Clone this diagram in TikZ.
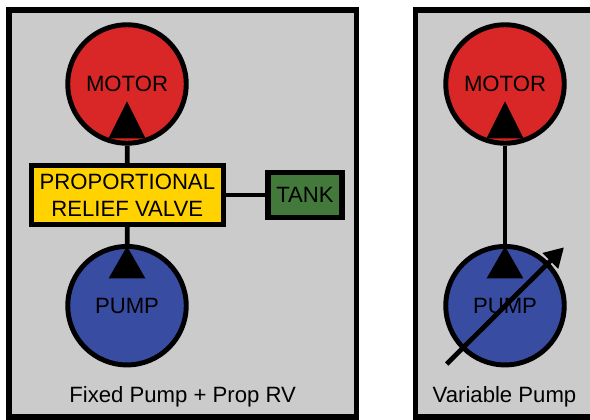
\documentclass[tikz,border=0pt]{standalone}
\usepackage{fontspec}
\setmainfont{Liberation Sans}
\usetikzlibrary{arrows.meta, positioning}
\definecolor{panelgrey}{HTML}{CBCBCB}
\definecolor{motorred}{HTML}{D92727}
\definecolor{pumpblue}{HTML}{384CA1}
\definecolor{valveyellow}{HTML}{FFD200}
\definecolor{tankgreen}{HTML}{43793A}
\tikzset{
  panel/.style={draw=black, fill=panelgrey, line width=2.9pt},
  motorpump/.style={circle, draw=black, line width=2.8pt, minimum size=2.37cm, inner sep=0pt},
  box/.style={draw=black, line width=3pt, inner sep=0pt, align=center},
  conn/.style={draw=black, line width=2.7pt},
  lab/.style={font=\fontsize{12.6}{15.3}\selectfont}
}
\begin{document}
\begin{tikzpicture}[x=0.02cm,y=-0.02cm]
        \clip (0,0) rectangle (590,419);

        % Fixed pump
        \draw[panel] (9,10) rectangle (356.7,417);
        \node[box, fill=valveyellow, minimum width=3.84cm, minimum height=1.174cm, lab] (valve) at (127.3,195) {PROPORTIONAL\\RELIEF VALVE};
        \node[box, fill=tankgreen, minimum width=1.48cm, minimum height=0.894cm, lab] (tank) at (305,195) {TANK};
        \node[motorpump, fill=motorred, lab] (motor) at (127,84) {MOTOR};
        \node[motorpump, fill=pumpblue, lab] (pump) at (127,305.7) {PUMP};
        \draw[conn] (motor) -- (valve);
        \draw[conn] (valve) -- (pump);
        \draw[conn] (valve) -- (tank);
        \fill (motor.south) ++(0,-44.3) -- ++(-18.5,37) -- ++(37,0) -- cycle; % motore
        \fill (pump.north) ++(0,2.3) -- ++(-18.3,32) -- ++(36.6,0) -- cycle; % pompa
        \node[lab] (fixedlabel) at (182.7,397) {Fixed Pump + Prop RV};

        % Variable pump
        \begin{scope}[shift={(378,0)}] % sposta tutto a destra
        \draw[panel] (37.8,10) rectangle (400,417);
        \node[motorpump, fill=motorred, lab] (motorb) at (127,84) {MOTOR};
        \node[motorpump, fill=pumpblue, lab] (pumpb) at (127,305.7) {PUMP};
        \draw[conn] (motorb) -- (pumpb);
        \fill (motorb.south) ++(0,-44.3) -- ++(-18.5,37) -- ++(37,0) -- cycle;
        \fill (pumpb.north) ++(0,2.3) -- ++(-18.3,32) -- ++(36.6,0) -- cycle;
        \coordinate (varstart) at (68.7,364);
        \coordinate (varend) at (186,247.3);
        \draw[conn, -{Triangle[length=11pt,width=12pt]}] (varstart) -- (varend);
        \node[lab] (varlabel) at (126.5,397) {Variable Pump};
        \end{scope}
    \end{tikzpicture}
\end{document}
